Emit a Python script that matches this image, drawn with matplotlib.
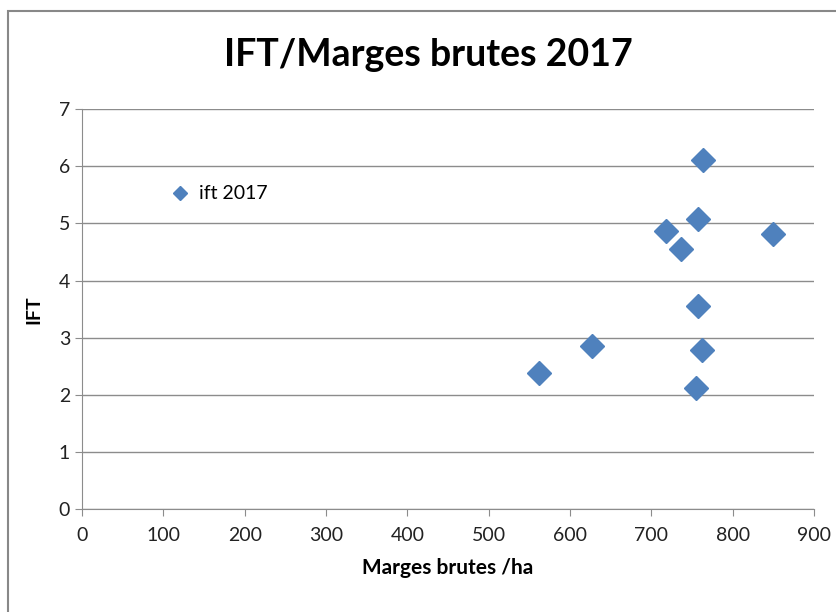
import matplotlib.pyplot as plt
from matplotlib.patches import Rectangle

marges = [763, 757, 718, 850, 736, 757, 627, 762, 562, 755]
ift = [6.10, 5.07, 4.86, 4.81, 4.56, 3.56, 2.86, 2.79, 2.38, 2.12]
xticks = [0, 100, 200, 300, 400, 500, 600, 700, 800, 900]
yticks = [0, 1, 2, 3, 4, 5, 6, 7]

plt.rcParams['font.family'] = ['Lato', 'DejaVu Sans']

fig = plt.figure(figsize=(8.37, 6.12), dpi=100)
fig.patches.append(Rectangle((8/837, -0.1), 1.1, 1 - 11/612 + 0.1, transform=fig.transFigure,
                             fill=False, edgecolor='#888888', linewidth=1.5))

ax = fig.add_axes([82/837, 1 - 509.4/612, 732/837, 400.4/612])
ax.plot(marges, ift, 'D', color='#4F81BD', markersize=12.5, label='ift 2017')

ax.set_xlim(0, 900)
ax.set_ylim(0, 7)
ax.set_xticks(xticks)
ax.set_yticks(yticks)
ax.grid(axis='y', color='#8c8c8c', linewidth=1)
ax.set_axisbelow(True)
for s in ['top', 'right']:
    ax.spines[s].set_visible(False)
for s in ['left', 'bottom']:
    ax.spines[s].set_color('#8c8c8c')
ax.tick_params(colors='#8c8c8c', labelcolor='#222222', labelsize=14, length=5)
ax.tick_params(axis='x', pad=8)

ax.set_xlabel('Marges brutes /ha', fontsize=15, fontweight='bold', labelpad=10)
ax.set_ylabel('IFT', fontsize=14, fontweight='bold', labelpad=12)
fig.text(428/837, 1 - 55/612, 'IFT/Marges brutes 2017', fontsize=27, fontweight='bold',
         ha='center', va='center')

ax.legend(loc='center left', bbox_to_anchor=(0.083, 0.788), frameon=False, fontsize=14,
          handletextpad=0.0, markerscale=0.6)

fig.savefig('out.png', dpi=100)
